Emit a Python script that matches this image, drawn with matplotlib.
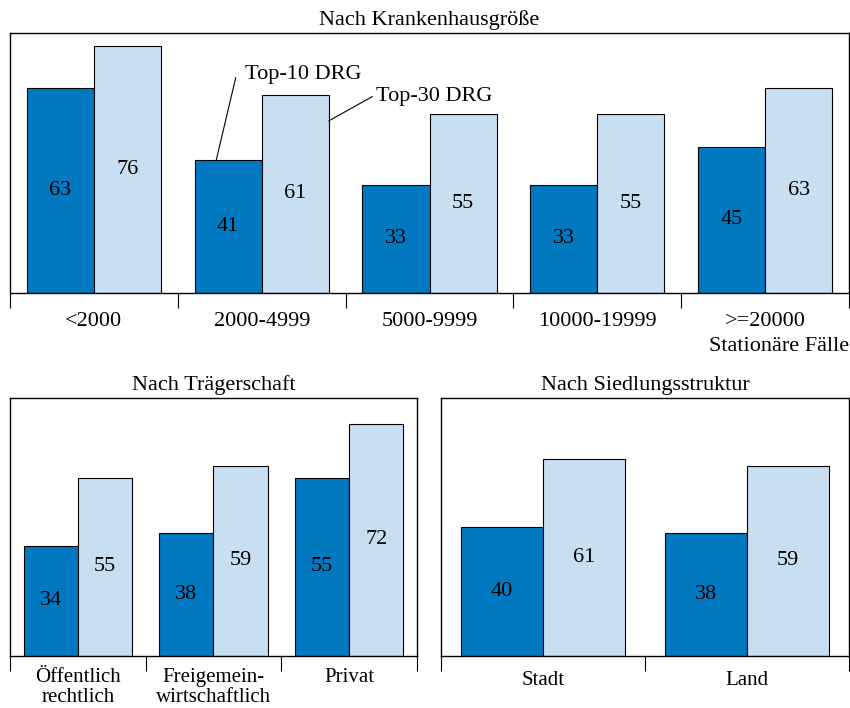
import matplotlib
matplotlib.use("Agg")
import matplotlib.pyplot as plt
import numpy as np

plt.rcParams['font.family'] = ['Liberation Serif', 'DejaVu Serif']

# data
size_cats = ['<2000', '2000-4999', '5000-9999', '10000-19999', '>=20000']
size_top10 = [63, 41, 33, 33, 45]
size_top30 = [76, 61, 55, 55, 63]

traeger_cats = ['Öffentlich\nrechtlich', 'Freigemein-\nwirtschaftlich', 'Privat']
traeger_top10 = [34, 38, 55]
traeger_top30 = [55, 59, 72]

siedl_cats = ['Stadt', 'Land']
siedl_top10 = [40, 38]
siedl_top30 = [61, 59]

DARK = '#0079c1'
LIGHT = '#c8def1'
FS = 16

fig = plt.figure(figsize=(8.5, 7.08), dpi=100)


def panel(rect, cats, v10, v30, title, pad, lfs):
    ax = fig.add_axes(rect)
    x = np.arange(len(cats))
    ax.bar(x - 0.2, v10, 0.4, color=DARK, edgecolor='black', linewidth=0.8)
    ax.bar(x + 0.2, v30, 0.4, color=LIGHT, edgecolor='black', linewidth=0.8)
    for xi, a, b in zip(x, v10, v30):
        ax.text(xi - 0.2, a / 2, str(a), ha='center', va='center', fontsize=FS)
        ax.text(xi + 0.2, b / 2, str(b), ha='center', va='center', fontsize=FS)
    ax.set_xlim(-0.5, len(cats) - 0.5)
    ax.set_ylim(0, 80)
    ax.set_yticks([])
    ax.set_xticks(x)
    ax.set_xticklabels(cats, fontsize=lfs, linespacing=1.05)
    ax.tick_params(axis='x', which='major', length=0, pad=pad)
    ax.set_xticks(np.arange(len(cats) + 1) - 0.5, minor=True)
    ax.tick_params(axis='x', which='minor', length=11, width=0.8, direction='out')
    for s in ax.spines.values():
        s.set_linewidth(1.0)
    ax.set_title(title, fontsize=FS, pad=6)
    return ax


ax1 = panel([10 / 850, 1 - 292.5 / 708, 839 / 850, 259.5 / 708],
            size_cats, size_top10, size_top30, 'Nach Krankenhausgröße', 14, FS)
ax2 = panel([10 / 850, 1 - 655.5 / 708, 407 / 850, 257.5 / 708],
            traeger_cats, traeger_top10, traeger_top30, 'Nach Trägerschaft', 9, 15)
ax3 = panel([441 / 850, 1 - 655.5 / 708, 408 / 850, 257.5 / 708],
            siedl_cats, siedl_top10, siedl_top30, 'Nach Siedlungsstruktur', 11, 15)

fig.text(849 / 850, 1 - 347 / 708, 'Stationäre Fälle', ha='right', va='center', fontsize=FS)

# series labels with leader lines
ax1.plot([0.73, 0.845], [41, 66.2], color='black', lw=0.8)
ax1.text(0.90, 67.1, 'Top-10 DRG', ha='left', va='center', fontsize=FS)
ax1.plot([1.4, 1.659], [52.9, 60.4], color='black', lw=0.8)
ax1.text(1.683, 60.4, 'Top-30 DRG', ha='left', va='center', fontsize=FS)

fig.savefig('out.png', dpi=100)
